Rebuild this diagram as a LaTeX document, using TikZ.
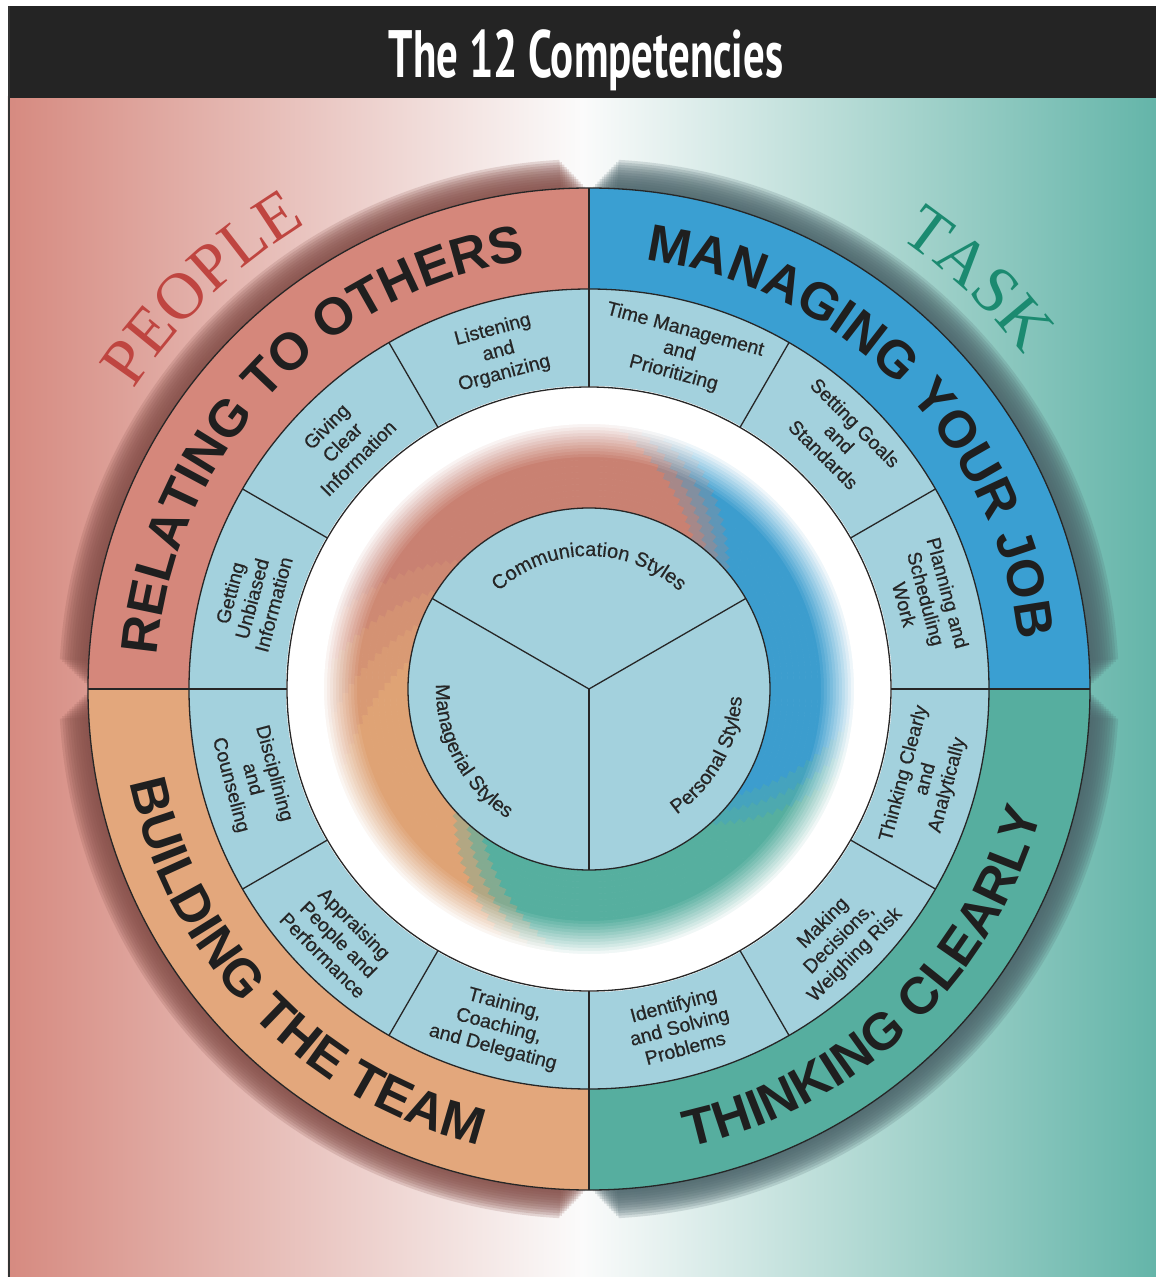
\documentclass[tikz,border=0pt]{standalone}
\usepackage{fontspec}
\setmainfont{Liberation Sans}
\newfontfamily\segfont{Liberation Sans}[FakeBold=0.5]
\newfontfamily\serifA{Liberation Serif}
\newfontfamily\titlefont{PT Sans}[FakeStretch=0.64]
\usetikzlibrary{decorations.text}
\definecolor{relRed}{HTML}{D5877B}
\definecolor{manBlue}{HTML}{3A9FD2}
\definecolor{thkTeal}{HTML}{56AE9F}
\definecolor{bldOrange}{HTML}{E3A77C}
\definecolor{ringBlue}{HTML}{A3D1DD}
\definecolor{barBlack}{HTML}{242424}
\definecolor{bgL}{HTML}{D68A80}
\definecolor{bgR}{HTML}{64B5A9}
\definecolor{bgM}{HTML}{FBFBFB}
\definecolor{shL}{HTML}{86504A}
\definecolor{shR}{HTML}{4D666C}
\definecolor{peopleRed}{HTML}{BF4540}
\definecolor{taskTeal}{HTML}{1B8A70}
\definecolor{txtDark}{HTML}{262626}
\definecolor{swB}{HTML}{3C9DCE}
\definecolor{swR}{HTML}{C98172}
\definecolor{swO}{HTML}{DFA375}
\definecolor{swT}{HTML}{56AF9F}
\colorlet{swBR1}{swB!75!swR}
\colorlet{swBR2}{swB!50!swR}
\colorlet{swBR3}{swB!25!swR}
\colorlet{swRO1}{swR!75!swO}
\colorlet{swRO2}{swR!50!swO}
\colorlet{swRO3}{swR!25!swO}
\colorlet{swOT1}{swO!67!swT}
\colorlet{swOT2}{swO!33!swT}
\colorlet{swTB1}{swT!67!swB}
\colorlet{swTB2}{swT!33!swB}
\newcommand\bandstyle{\fontsize{52}{60}\selectfont\bfseries}
\newcommand\midstyle{\fontsize{20}{24}\selectfont\segfont}
\newcommand\bigserif{\fontsize{66}{72}\selectfont\serifA}
\tikzset{
  seg/.style={font=\fontsize{19.5}{22.5}\selectfont\segfont, text=txtDark, align=center, inner sep=0pt},
  thinline/.style={draw=black!85, line width=1.3pt},
  bandtext/.style={decorate, decoration={text along path, text align=center, text color=black!88, text={|\bandstyle|#1}}},
  midtext/.style={decorate, decoration={text along path, text align=center, text color=txtDark, text={|\midstyle|#1}}}
}
\begin{document}
\begin{tikzpicture}[x=1pt,y=1pt]
\useasboundingbox (-589,-588) rectangle (567,689);
\fill[white] (-589,-588) rectangle (567,689);
% background gradient
\shade[left color=bgL, right color=bgR, middle color=bgM] (-581,-588) rectangle (567,592);
% title bar
\fill[barBlack] (-581,591) rectangle (567,683);
\draw[black!80, line width=2.5pt] (-580,-588) -- (-580,683);
\node[font=\titlefont\bfseries\fontsize{67}{70}\selectfont, text=white, anchor=base] (title) at (-3,611) {The 12 Competencies};
% halo shadows of the four quadrants
\foreach \qa/\qb/\qc in {90/180/shL, 180/270/shL, 0/90/shR, 270/360/shR}{
  \foreach \i in {0,...,11}{
    \pgfmathsetmacro\rr{530-2.5*\i}
    \pgfmathsetmacro\ins{3.2-0.25*\i}
    \fill[\qc, fill opacity=0.19] (0,0) -- ({\qa+\ins}:\rr) arc[start angle={\qa+\ins}, end angle={\qb-\ins}, radius=\rr] -- cycle;
  }
}
% quadrant bands
\fill[relRed] (0,0) -- (90:501) arc[start angle=90, end angle=180, radius=501] -- cycle;
\fill[bldOrange] (0,0) -- (180:501) arc[start angle=180, end angle=270, radius=501] -- cycle;
\fill[thkTeal] (0,0) -- (270:501) arc[start angle=270, end angle=360, radius=501] -- cycle;
\fill[manBlue] (0,0) -- (0:501) arc[start angle=0, end angle=90, radius=501] -- cycle;
\fill[ringBlue] (0,0) circle[radius=400];
\fill[white] (0,0) circle[radius=302];
% swirl
\foreach \ra in {181,187,...,277}{
  \pgfmathsetmacro\rb{\ra+6}
  \pgfmathsetmacro\s{35*(\ra+3-181)/100}
  \foreach \a/\b/\c in {-36/40/swB, 40/45/swBR1, 45/50/swBR2, 50/55/swBR3, 55/135/swR, 135/147/swRO1, 147/159/swRO2, 159/171/swRO3, 171/222/swO, 222/228/swOT1, 228/234/swOT2, 234/312/swT, 312/318/swTB1, 318/324/swTB2}{
    \filldraw[fill=\c, draw=\c, line width=0.6pt] ({\a+\s}:\rb) arc[start angle={\a+\s}, end angle={\b+\s}, radius=\rb] -- ({\b+\s}:\ra) arc[start angle={\b+\s}, end angle={\a+\s}, radius=\ra] -- cycle;
  }
}
\foreach \k in {1,...,12}{
  \pgfmathsetmacro\op{1/(13-\k)}
  \fill[white, fill opacity=\op, even odd rule] (0,0) circle[radius=303] circle[radius={229+3*\k}];
}
% center disk
\fill[ringBlue] (0,0) circle[radius=181];
% outlines
\draw[thinline] (0,0) circle[radius=501];
\draw[thinline] (0,0) circle[radius=400];
\draw[thinline] (0,0) circle[radius=302];
\draw[thinline] (0,0) circle[radius=181];
\foreach \a in {0,90,180,270} \draw[thinline] (\a:302) -- (\a:501);
\foreach \a in {30,60,...,330} \draw[thinline] (\a:302) -- (\a:400);
\foreach \a in {30,150,270} \draw[thinline] (0,0) -- (\a:181);
% band texts
\path[bandtext={RELATING TO OTHERS}] (200:433) arc[start angle=200, end angle=74, radius=433];
\path[bandtext={MANAGING YOUR JOB}] (107.5:433) arc[start angle=107.5, end angle=-18.5, radius=433];
\path[bandtext={THINKING CLEARLY}] (250.5:469) arc[start angle=250.5, end angle=376.5, radius=469];
\path[bandtext={BUILDING THE TEAM}] (161:469) arc[start angle=161, end angle=287, radius=469];
% centre texts
\path[midtext={Communication Styles}] (170:133) arc[start angle=170, end angle=10, radius=133];
\path[midtext={Managerial Styles}] (150:153) arc[start angle=150, end angle=266, radius=153];
\path[midtext={Personal Styles}] (273:153) arc[start angle=273, end angle=389, radius=153];
% ring segment texts
\node[seg, rotate=15] (s105) at (105:349) {Listening\\and\\Organizing};
\node[seg, rotate=-15] (s75) at (75:349) {Time Management\\and\\Prioritizing};
\node[seg, rotate=-45] (s45) at (45:354) {Setting Goals\\and\\Standards};
\node[seg, rotate=-75] (s15) at (15:349) {Planning and\\Scheduling\\Work};
\node[seg, rotate=75] (s345) at (345:349) {Thinking Clearly\\and\\Analytically};
\node[seg, rotate=45] (s315) at (315:354) {Making\\Decisions,\\Weighing Risk};
\node[seg, rotate=15] (s285) at (285:349) {Identifying\\and Solving\\Problems};
\node[seg, rotate=-15] (s255) at (255:349) {Training,\\Coaching,\\and Delegating};
\node[seg, rotate=-45] (s225) at (225:354) {Appraising\\People and\\Performance};
\node[seg, rotate=-75] (s195) at (195:349) {Disciplining\\and\\Counseling};
\node[seg, rotate=75] (s165) at (165:349) {Getting\\Unbiased\\Information};
\node[seg, rotate=45] (s135) at (135:349) {Giving\\Clear\\Information};
% PEOPLE / TASK
\path[decorate, decoration={text along path, text align=center, text color=peopleRed, text={|\bigserif|PEOPLE}}] (164:545) arc[start angle=164, end angle=104, radius=545];
\path[decorate, decoration={text along path, text align=center, text color=taskTeal, text={|\bigserif|TASK}}] (76.5:548) arc[start angle=76.5, end angle=16.5, radius=548];
\end{tikzpicture}
\end{document}
